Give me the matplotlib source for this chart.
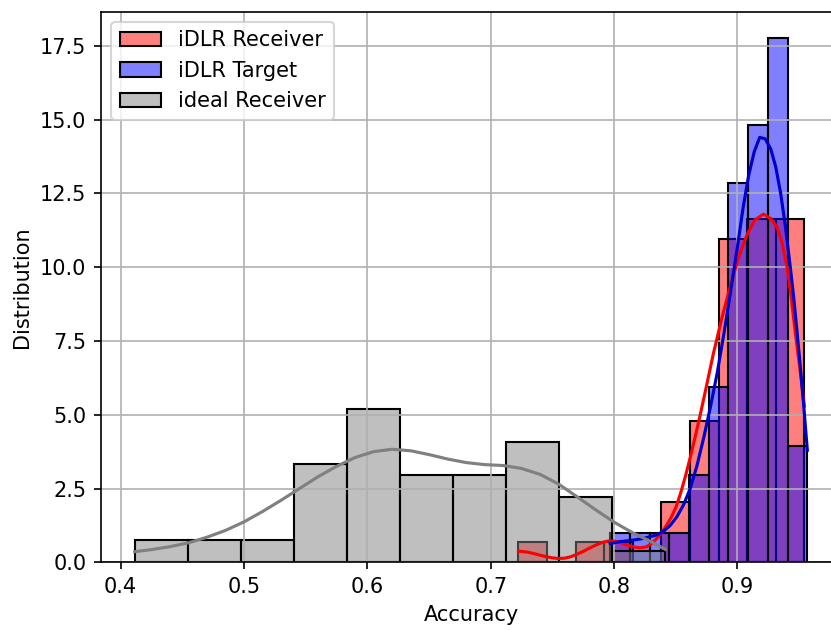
import matplotlib.pyplot as plt
import numpy as np

# bin edges and densities
receiver_edges = [0.7225, 0.7457, 0.7688, 0.7920, 0.8152, 0.8384, 0.8615, 0.8847, 0.9079, 0.9310, 0.9542]
receiver_density = [0.68, 0.0, 0.68, 0.68, 0.0, 2.05, 4.79, 10.96, 11.64, 11.64]

target_edges = [0.7968, 0.8128, 0.8288, 0.8447, 0.8607, 0.8767, 0.8927, 0.9087, 0.9246, 0.9406, 0.9566]
target_density = [0.99, 0.99, 0.99, 0.99, 2.96, 5.93, 12.84, 14.81, 17.77, 3.95]

ideal_edges = [0.4114, 0.4544, 0.4974, 0.5404, 0.5834, 0.6264, 0.6694, 0.7124, 0.7554, 0.7984, 0.8414]
ideal_density = [0.74, 0.74, 0.74, 3.33, 5.18, 2.96, 2.96, 4.07, 2.22, 0.37]

# kde curves (x, density)
receiver_kde_x = [0.7225, 0.729, 0.7346, 0.740, 0.745, 0.750, 0.7549, 0.760, 0.765, 0.7698,
                  0.775, 0.780, 0.785, 0.790, 0.795, 0.800, 0.805, 0.810, 0.8157, 0.821,
                  0.826, 0.830, 0.834, 0.838, 0.842, 0.846, 0.850, 0.8536, 0.8577, 0.8617,
                  0.8657, 0.8698, 0.875, 0.8806, 0.8875, 0.8941, 0.901, 0.9077, 0.914, 0.921,
                  0.927, 0.932, 0.936, 0.9401, 0.9435, 0.9468, 0.9505, 0.9542]
receiver_kde_y = [0.38, 0.35, 0.30, 0.24, 0.19, 0.15, 0.13, 0.14, 0.19, 0.27,
                  0.37, 0.48, 0.58, 0.67, 0.72, 0.72, 0.67, 0.59, 0.52, 0.49,
                  0.52, 0.62, 0.78, 0.97, 1.22, 1.50, 1.85, 2.30, 2.90, 3.55,
                  4.25, 5.00, 6.00, 7.10, 8.30, 9.35, 10.35, 11.10, 11.60, 11.80,
                  11.65, 11.35, 10.85, 10.03, 9.00, 7.80, 6.60, 5.30]

target_kde_x = [0.7968, 0.805, 0.815, 0.8238, 0.8347, 0.840, 0.8455, 0.851, 0.8563, 0.8617,
                0.867, 0.8725, 0.878, 0.8835, 0.889, 0.8945, 0.900, 0.9045, 0.909, 0.9135,
                0.918, 0.9225, 0.927, 0.931, 0.935, 0.9388, 0.9428, 0.9455, 0.9483, 0.951,
                0.9537, 0.9566]
target_kde_y = [0.64, 0.70, 0.75, 0.81, 0.93, 1.05, 1.25, 1.55, 1.95, 2.50,
                3.25, 4.20, 5.25, 6.40, 7.75, 9.20, 10.70, 12.00, 13.10, 13.90,
                14.40, 14.35, 14.00, 13.40, 12.50, 11.40, 10.00, 9.00, 7.80, 6.60,
                5.30, 3.80]

ideal_kde_x = [0.4114, 0.425, 0.440, 0.455, 0.470, 0.485, 0.500, 0.515, 0.530, 0.545,
               0.560, 0.575, 0.590, 0.605, 0.620, 0.635, 0.650, 0.665, 0.680, 0.695,
               0.710, 0.725, 0.740, 0.755, 0.770, 0.785, 0.800, 0.815, 0.828, 0.8414]
ideal_kde_y = [0.36, 0.43, 0.53, 0.66, 0.85, 1.08, 1.37, 1.72, 2.10, 2.50,
               2.90, 3.25, 3.55, 3.75, 3.83, 3.78, 3.65, 3.50, 3.38, 3.31,
               3.28, 3.18, 2.98, 2.65, 2.22, 1.78, 1.36, 1.00, 0.74, 0.44]

fig = plt.figure(figsize=(831 / 150, 630 / 150), dpi=150)
ax = fig.add_axes([101 / 831, 67.7 / 630, 740 / 831, 550.6 / 630])

# label, bar colour, kde colour, bins, densities, kde x, kde y
series = [
    ("iDLR Receiver", "red", "red", receiver_edges, receiver_density, receiver_kde_x, receiver_kde_y),
    ("iDLR Target", "blue", "#0000cc", target_edges, target_density, target_kde_x, target_kde_y),
    ("ideal Receiver", "gray", "gray", ideal_edges, ideal_density, ideal_kde_x, ideal_kde_y),
]

for label, color, _, edges, dens, _, _ in series:
    edges = np.asarray(edges)
    face = plt.matplotlib.colors.to_rgba(color, 0.5)
    ax.bar(edges[:-1], dens, width=np.diff(edges), align="edge",
           color=face, edgecolor="black", linewidth=1.0, label=label)

for label, _, line_color, _, _, kx, ky in series:
    ax.plot(kx, ky, color=line_color, linewidth=1.5)

ax.set_xlim(0.3841, 0.9839)
ax.spines["right"].set_visible(False)  # falls outside the cropped picture anyway
ax.grid(True)
ax.set_xlabel("Accuracy")
ax.set_ylabel("Distribution")
ax.legend(loc="upper left")

fig.savefig("out.png", dpi=150)
